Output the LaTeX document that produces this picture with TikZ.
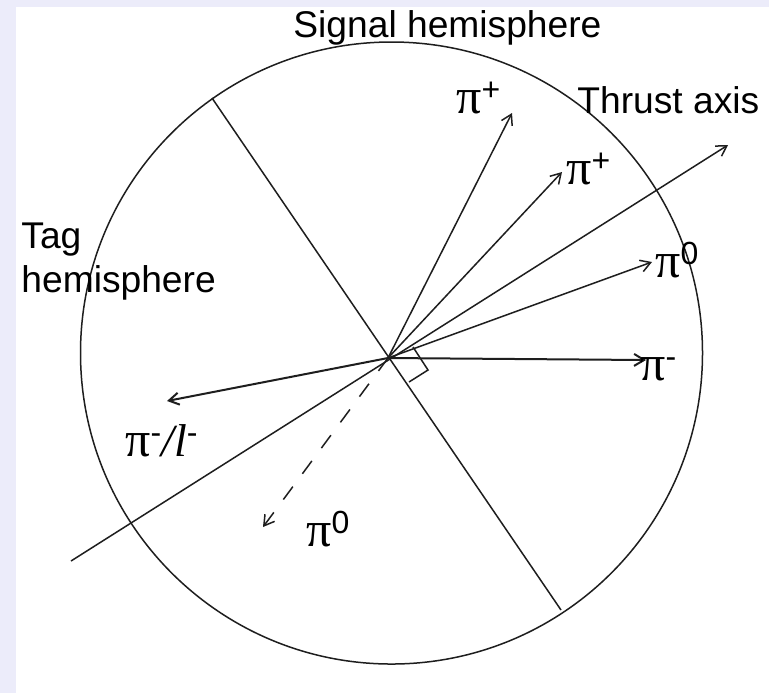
\documentclass[tikz,border=0pt]{standalone}
\usepackage{fontspec}
\setmainfont{Liberation Sans}
\newfontfamily\greekfont{Liberation Serif}
\usetikzlibrary{arrows.meta}
\definecolor{lavender}{RGB}{236,236,250}
\definecolor{ink}{RGB}{30,30,30}
\newcommand\pisym{{\greekfont\fontsize{25}{25}\selectfont π}}
\newcommand\pisup[1]{\raisebox{6.5pt}{\fontsize{16}{16}\selectfont #1}}

\begin{document}
\begin{tikzpicture}[x=0.5pt,y=-0.5pt,
    vec/.style={-{Straight Barb[length=5pt,width=6pt]},line width=0.75pt,ink},
    txt/.style={font=\fontsize{18.6}{18.6}\selectfont,inner sep=0pt,anchor=base west}]
  \useasboundingbox (0,0) rectangle (769,693);
  \fill[lavender] (0,0) rectangle (769,693);
  \fill[white] (16,7) rectangle (769,693);
  % circle and the two axes
  \draw[line width=0.75pt,ink] (391.5,353) circle[radius=155.5pt];
  \coordinate (O) at (388,358);
  \coordinate (dA) at (212,98);
  \coordinate (dB) at (561,610);
  \draw[line width=0.75pt,ink] (dA) -- (dB);
  \coordinate (tA) at (71,561);
  \coordinate (tB) at (728,145);
  \draw[vec] (tA) -- (tB);
  \coordinate (rA) at (413,347);
  \coordinate (rB) at (428,370);
  \coordinate (rC) at (409,382);
  \draw[line width=0.75pt,ink] (rA) -- (rB) -- (rC);
  % particles
  \foreach \n/\x/\y in {pA/512/113,pB/562/172,pC/652/262}{
    \coordinate (\n) at (\x,\y);
    \draw[vec] (O) -- (\n);
  }
  \coordinate (pD) at (646,360);
  \coordinate (pE) at (167,401);
  \draw[vec,line width=1pt] (O) -- (pD);
  \draw[vec,line width=1pt] (O) -- (pE);
  \coordinate (pF) at (263,527);
  \draw[vec,dash pattern=on 8pt off 8pt] (O) -- (pF);
  % labels
  \node[txt] (lA) at (456,113) {\pisym\pisup{+}};
  \node[txt] (lB) at (566,184) {\pisym\pisup{+}};
  \node[txt] (lC) at (655,277) {\pisym\pisup{0}};
  \node[txt] (lD) at (640,380) {\pisym\pisup{-}};
  \node[txt] (lE) at (125,456) {\pisym\pisup{-}{\greekfont\fontsize{23}{23}\selectfont\itshape /l}\pisup{-}};
  \node[txt] (lF) at (306,546) {\pisym\pisup{0}};
  \node[txt] (sig) at (293,37) {Signal hemisphere};
  \node[txt] (tag) at (21,248) {Tag};
  \node[txt] (hemi) at (21,292) {hemisphere};
  \node[txt] (thr) at (577,113) {Thrust axis};
\end{tikzpicture}
\end{document}
